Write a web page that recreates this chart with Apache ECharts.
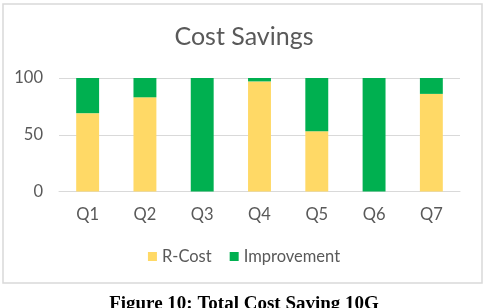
<!DOCTYPE html>
<html><head><meta charset="utf-8">
<script src="https://cdn.jsdelivr.net/npm/echarts@6/dist/echarts.min.js"></script>
<style>html,body{margin:0;padding:0;background:#fff}#c{width:488px;height:308px}</style>
</head><body><div id="c"></div>
<script>
const categories = ['Q1','Q2','Q3','Q4','Q5','Q6','Q7'];
const rCost = [69, 83, 0, 97, 53, 0, 86];
const improvement = [31, 17, 100, 3, 47, 100, 14];
const yTicks = [0, 50, 100];
const seriesNames = ['R-Cost', 'Improvement'];
const titleText = 'Cost Savings';
const captionText = 'Figure 10: Total Cost Saving 10G';

const font = 'Lato';
const chart = echarts.init(document.getElementById('c'), null, {renderer: 'canvas'});
chart.setOption({
  animation: false,
  title: {text: titleText, left: 'center', top: 19,
    textStyle: {fontFamily: font, fontSize: 25, fontWeight: 'normal', color: '#595959'}},
  legend: {data: seriesNames, top: 243, left: 'center', itemWidth: 9, itemHeight: 9, itemGap: 18,
    icon: 'rect', textStyle: {fontFamily: font, fontSize: 16.5, color: '#595959'}},
  grid: {left: 59, right: 28, top: 78, bottom: 116.5},
  xAxis: {type: 'category', data: categories,
    axisLine: {lineStyle: {color: '#d9d9d9'}}, axisTick: {show: false},
    axisLabel: {fontFamily: font, fontSize: 16.5, color: '#595959', margin: 15}},
  yAxis: {type: 'value', min: yTicks[0], max: yTicks[yTicks.length-1], interval: 50,
    axisLine: {show: false}, axisTick: {show: false},
    splitLine: {lineStyle: {color: '#d9d9d9'}},
    axisLabel: {fontFamily: font, fontSize: 16.5, color: '#595959', margin: 16}},
  series: [
    {name: seriesNames[0], type: 'bar', stack: 's', data: rCost, barWidth: '40%', itemStyle: {color: '#FFD966'}},
    {name: seriesNames[1], type: 'bar', stack: 's', data: improvement, barWidth: '40%', itemStyle: {color: '#00B050'}}
  ],
  graphic: [
    {type: 'rect', shape: {x: 3, y: 4, width: 479, height: 279}, style: {fill: 'none', stroke: '#d9d9d9', lineWidth: 1.5}, silent: true},
    {type: 'text', left: 'center', top: 295, style: {text: captionText, font: 'bold 19px "Liberation Serif"', fill: '#000'}}
  ]
});
</script></body></html>
